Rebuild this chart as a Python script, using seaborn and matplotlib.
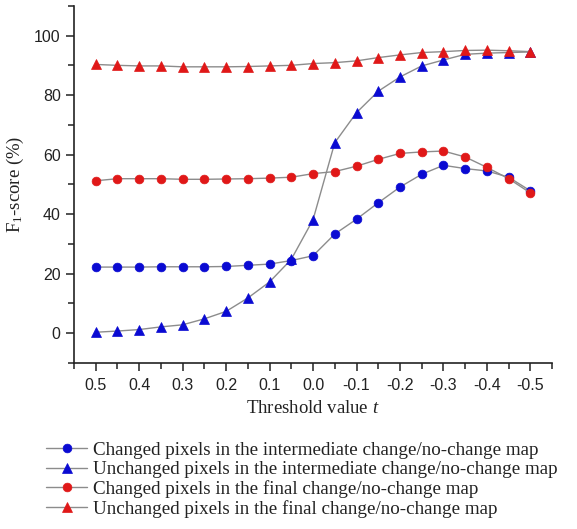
import matplotlib
matplotlib.use('Agg')
import matplotlib.pyplot as plt
import seaborn as sns
import pandas as pd
from matplotlib.ticker import MultipleLocator

# Threshold values (0.5 down to -0.5, step 0.05)
thresholds = [0.5, 0.45, 0.4, 0.35, 0.3, 0.25, 0.2, 0.15, 0.1, 0.05, 0.0,
              -0.05, -0.1, -0.15, -0.2, -0.25, -0.3, -0.35, -0.4, -0.45, -0.5]

changedInter = [22.2, 22.2, 22.2, 22.3, 22.3, 22.3, 22.4, 22.8, 23.2, 24.4, 26.0,
                33.3, 38.3, 43.8, 49.1, 53.4, 56.4, 55.3, 54.5, 52.4, 47.8]
unchangedInter = [0.3, 0.7, 1.2, 2.1, 2.8, 4.8, 7.3, 11.8, 17.2, 24.8, 38.1,
                  64.0, 74.1, 81.3, 86.1, 89.8, 91.8, 93.7, 94.1, 94.3, 94.5]
changedFinal = [51.2, 51.9, 51.9, 51.9, 51.7, 51.7, 51.8, 51.9, 52.1, 52.4, 53.6,
                54.3, 56.1, 58.4, 60.4, 60.9, 61.2, 59.2, 55.7, 51.9, 47.1]
unchangedFinal = [90.3, 90.0, 89.8, 89.8, 89.5, 89.5, 89.5, 89.6, 89.8, 90.0, 90.6,
                  90.9, 91.5, 92.6, 93.5, 94.3, 94.6, 95.0, 95.1, 94.9, 94.6]

seriesLabels = [
    'Changed pixels in the intermediate change/no-change map',
    'Unchanged pixels in the intermediate change/no-change map',
    'Changed pixels in the final change/no-change map',
    'Unchanged pixels in the final change/no-change map',
]

BLUE = '#0a0ad2'
RED = '#e01818'
LINE = '#8c8c8c'

sns.set_theme(style='ticks')
plt.rcParams['font.family'] = ['Liberation Sans', 'DejaVu Sans']
plt.rcParams['mathtext.fontset'] = 'custom'
plt.rcParams['mathtext.rm'] = 'Liberation Serif'
plt.rcParams['mathtext.it'] = 'Liberation Serif:italic'

fig = plt.figure(figsize=(5.77, 5.29), dpi=100)
ax = fig.add_axes([0.128, 0.314, 0.829, 0.675])

series = [
    (changedInter, BLUE, 'o', 6.3),
    (unchangedInter, BLUE, '^', 6.8),
    (changedFinal, RED, 'o', 6.3),
    (unchangedFinal, RED, '^', 6.8),
]
for (values, col, mk, ms), lab in zip(series, seriesLabels):
    df = pd.DataFrame({'Threshold': thresholds, 'F1': values})
    sns.lineplot(data=df, x='Threshold', y='F1', ax=ax, color=LINE, lw=1.0,
                 marker=mk, markersize=ms, markerfacecolor=col,
                 markeredgecolor=col, markeredgewidth=0.5, label=lab)

ax.set_xlim(0.55, -0.55)
ax.set_ylim(-10, 110)
ax.xaxis.set_major_locator(MultipleLocator(0.1))
ax.xaxis.set_minor_locator(MultipleLocator(0.05))
ax.yaxis.set_major_locator(MultipleLocator(20))
ax.yaxis.set_minor_locator(MultipleLocator(10))
ax.set_xticks([0.5, 0.4, 0.3, 0.2, 0.1, 0.0, -0.1, -0.2, -0.3, -0.4, -0.5])
ax.set_xticklabels(['0.5', '0.4', '0.3', '0.2', '0.1', '0.0', '-0.1', '-0.2', '-0.3', '-0.4', '-0.5'])

sns.despine(ax=ax)
for sp in ['left', 'bottom']:
    ax.spines[sp].set_linewidth(1.2)
    ax.spines[sp].set_color('#222222')
ax.tick_params(which='major', direction='out', length=6, width=1.1, labelsize=11.5,
               colors='#222222')
ax.tick_params(axis='x', which='major', pad=5)
ax.tick_params(which='minor', direction='out', length=4, width=1.1, colors='#222222')

ax.set_xlabel('Threshold value $t$', family='Liberation Serif', fontsize=13.5,
              color='#222222', labelpad=5)
ax.set_ylabel('F$_\\mathrm{1}$-score (%)', family='Liberation Serif', fontsize=13.5,
              color='#222222', labelpad=6)

handles, labels = ax.get_legend_handles_labels()
ax.get_legend().remove()
leg = fig.legend(handles, labels, loc='upper left', bbox_to_anchor=(0.079, 0.165),
                 frameon=False, prop={'family': 'Liberation Serif', 'size': 13.7},
                 handlelength=2.2, handletextpad=0.3, labelspacing=0.1,
                 borderpad=0, borderaxespad=0)
for t in leg.get_texts():
    t.set_color('#222222')

fig.savefig('out.png', dpi=100)
